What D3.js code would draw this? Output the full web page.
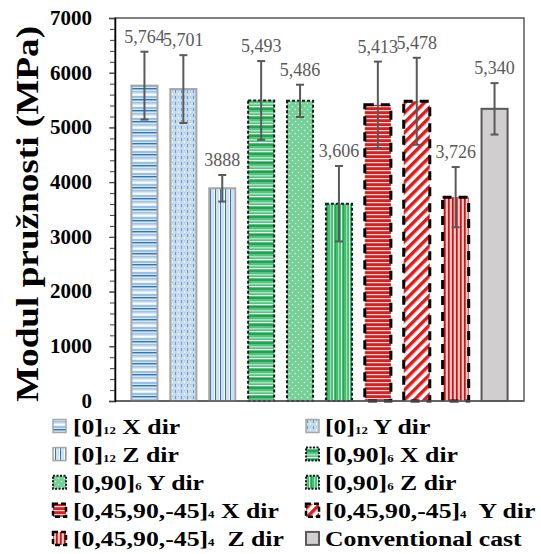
<!DOCTYPE html>
<html><head><meta charset="utf-8">
<script src="https://cdn.jsdelivr.net/npm/d3@7"></script>
<style>body{margin:0;background:#fff}</style>
</head><body>
<svg id="chart" width="541" height="554"></svg>
<script>
const categories = ["[0]12 X dir","[0]12 Y dir","[0]12 Z dir","[0,90]6 X dir","[0,90]6 Y dir","[0,90]6 Z dir","[0,45,90,-45]4 X dir","[0,45,90,-45]4 Y dir","[0,45,90,-45]4 Z dir","Conventional cast"];
const values = [5764,5701,3888,5493,5486,3606,5413,5478,3726,5340];
const errors = [620,620,243,720,295,690,790,795,550,470];
const valueLabels = ["5,764","5,701","3888","5,493","5,486","3,606","5,413","5,478","3,726","5,340"];
const yTicks = [0,1000,2000,3000,4000,5000,6000,7000];
const legendMain = ["[0]","[0]","[0]","[0,90]","[0,90]","[0,90]","[0,45,90,-45]","[0,45,90,-45]","[0,45,90,-45]","Conventional cast"];
const legendSub = ["12","12","12","6","6","6","4","4","4",""];
const legendDir = [" X dir"," Y dir"," Z dir"," X dir"," Y dir"," Z dir"," X dir","  Y dir","  Z dir",""];
const yTitle = "Modul pružnosti (MPa)";

const svg = d3.select("#chart");
const serif = "'Liberation Serif','Times New Roman',serif";
const defs = svg.append("defs");

function pat(id, w, h, bg, draw, transform) {
  const p = defs.append("pattern").attr("id", id).attr("patternUnits", "userSpaceOnUse")
    .attr("width", w).attr("height", h);
  if (transform) p.attr("patternTransform", transform);
  p.append("rect").attr("width", w).attr("height", h).attr("fill", bg);
  draw(p);
}
// blue horizontal
pat("p0", 8, 11, "#d6e6f5", p => {
  p.append("rect").attr("y", 0).attr("width", 8).attr("height", 1.4).attr("fill", "#2e75b6");
  p.append("rect").attr("y", 3).attr("width", 8).attr("height", 1.5).attr("fill", "#9dc3e6");
  p.append("rect").attr("y", 6).attr("width", 8).attr("height", 1.5).attr("fill", "#ffffff");
  p.append("rect").attr("y", 8.5).attr("width", 8).attr("height", 1).attr("fill", "#5b9bd5");
});
// blue light dotted vertical
pat("p1", 6, 6, "#c6dbf0", p => {
  p.append("rect").attr("x", 1).attr("y", 0).attr("width", 1).attr("height", 3).attr("fill", "#5b9bd5");
  p.append("rect").attr("x", 4).attr("y", 3).attr("width", 1).attr("height", 2).attr("fill", "#ffffff");
  p.append("rect").attr("x", 4).attr("y", 0).attr("width", 1).attr("height", 1).attr("fill", "#9dc3e6");
});
// blue vertical
pat("p2", 5, 8, "#ffffff", p => {
  p.append("rect").attr("x", 0).attr("width", 1.2).attr("height", 8).attr("fill", "#2e75b6");
  p.append("rect").attr("x", 2.5).attr("width", 1).attr("height", 8).attr("fill", "#9dc3e6");
});
// green horizontal
pat("p3", 8, 9, "#54c47f", p => {
  p.append("rect").attr("y", 0).attr("width", 8).attr("height", 2).attr("fill", "#22a352");
  p.append("rect").attr("y", 4).attr("width", 8).attr("height", 1.5).attr("fill", "#a5e3bb");
  p.append("rect").attr("y", 7).attr("width", 8).attr("height", 1).attr("fill", "#ffffff");
});
// green dotted
pat("p4", 6, 6, "#74d196", p => {
  p.append("circle").attr("cx", 1.5).attr("cy", 1.5).attr("r", 0.8).attr("fill", "#e8f8ee");
  p.append("circle").attr("cx", 4.5).attr("cy", 4.5).attr("r", 0.8).attr("fill", "#e8f8ee");
});
// green vertical
pat("p5", 8, 8, "#45bd72", p => {
  p.append("rect").attr("x", 2).attr("width", 1.2).attr("height", 8).attr("fill", "#9be0b4");
  p.append("rect").attr("x", 5).attr("width", 0.8).attr("height", 8).attr("fill", "#ffffff");
  p.append("rect").attr("x", 7).attr("width", 1).attr("height", 8).attr("fill", "#2aa558");
});
// red horizontal
pat("p6", 8, 4, "#d81e1e", p => {
  p.append("rect").attr("y", 2).attr("width", 8).attr("height", 1.2).attr("fill", "#ffe0e0");
});
// red diagonal
pat("p7", 7, 7, "#ffffff", p => {
  p.append("rect").attr("x", 0).attr("width", 3.5).attr("height", 7).attr("fill", "#e01b1b");
}, "rotate(45)");
// red vertical
pat("p8", 4, 8, "#f2a0a0", p => {
  p.append("rect").attr("x", 0).attr("width", 1.6).attr("height", 8).attr("fill", "#d01010");
  p.append("rect").attr("x", 2.5).attr("width", 0.7).attr("height", 8).attr("fill", "#ffffff");
});

function barStyle(sel, i, small) {
  const g = Math.floor(i / 3);
  if (i === 9) {
    sel.attr("fill", "#d0cece").attr("stroke", "#595959").attr("stroke-width", 2);
  } else {
    sel.attr("fill", `url(#p${i})`);
    if (g === 0) sel.attr("stroke", "#a6a6a6").attr("stroke-width", small ? 1.5 : 2);
    else if (g === 1) sel.attr("stroke", "#1a1a1a").attr("stroke-width", 2).attr("stroke-dasharray", small ? "2,1.5" : "3,2");
    else sel.attr("stroke", "#000").attr("stroke-width", small ? 2.5 : 3).attr("stroke-dasharray", small ? "5,3" : "9,7");
  }
  return sel;
}

const mLeft = 115, mRight = 524, mTop = 18, mBottom = 401;
const x = d3.scaleBand().domain(categories).range([mLeft, mRight]).paddingInner(0.33).paddingOuter(0.422);
const y = d3.scaleLinear().domain([0, 7000]).range([mBottom, mTop]);

// frame
svg.append("rect").attr("x", mLeft).attr("y", mTop).attr("width", mRight - mLeft).attr("height", mBottom - mTop)
  .attr("fill", "none").attr("stroke", "#595959").attr("stroke-width", 1.5);

// bars
categories.forEach((c, i) => {
  barStyle(svg.append("rect")
    .attr("x", x(c)).attr("y", y(values[i]))
    .attr("width", x.bandwidth()).attr("height", y(0) - y(values[i])), i, false);
});

// baseline
svg.append("line").attr("x1", mLeft).attr("x2", mRight).attr("y1", y(0)).attr("y2", y(0))
  .attr("stroke", "#595959").attr("stroke-width", 1.5);

// error bars
const eg = svg.append("g").attr("stroke", "#595959").attr("stroke-width", 2);
categories.forEach((c, i) => {
  const cx = x(c) + x.bandwidth() / 2;
  const hi = y(values[i] + errors[i]), lo = y(values[i] - errors[i]);
  eg.append("line").attr("x1", cx).attr("x2", cx).attr("y1", hi).attr("y2", lo);
  eg.append("line").attr("x1", cx - 4).attr("x2", cx + 4).attr("y1", hi).attr("y2", hi);
  eg.append("line").attr("x1", cx - 4).attr("x2", cx + 4).attr("y1", lo).attr("y2", lo);
});

// value labels
categories.forEach((c, i) => {
  svg.append("text").attr("x", x(c) + x.bandwidth() / 2).attr("y", y(values[i] + errors[i]) - 9)
    .attr("text-anchor", "middle").attr("font-family", serif).attr("font-size", 18)
    .attr("fill", "#595959").text(valueLabels[i]);
});

// y axis minor ticks
svg.append("g").attr("transform", `translate(${mLeft},0)`)
  .call(d3.axisLeft(y).tickValues(d3.range(0, 7001, 200)).tickSize(5).tickFormat(""))
  .call(g => g.select(".domain").remove())
  .call(g => g.selectAll("line").attr("stroke", "#404040"));
// y axis major
const ya = svg.append("g").attr("transform", `translate(${mLeft},0)`)
  .call(d3.axisLeft(y).tickValues(yTicks).tickSize(6).tickPadding(17).tickFormat(d3.format("d")));
ya.select(".domain").attr("stroke", "#000").attr("stroke-width", 1.5);
ya.selectAll("line").attr("stroke", "#404040");
ya.selectAll("text").attr("font-family", serif).attr("font-size", 21).attr("font-weight", "bold")
  .attr("fill", "#000").attr("dy", "0.3em");

// y title
svg.append("text").attr("transform", "translate(38,214) rotate(-90) scale(1.2,1)")
  .attr("text-anchor", "middle").attr("font-family", serif).attr("font-size", 31)
  .attr("font-weight", "bold").attr("fill", "#000").text(yTitle);

// legend
const lg = svg.append("g");
categories.forEach((c, i) => {
  const col = i % 2, row = Math.floor(i / 2);
  const sx = col === 0 ? 52 : 305, tx = col === 0 ? 73 : 325;
  const cy = 426 + row * 28.1;
  barStyle(lg.append("rect").attr("x", sx + 1).attr("y", cy - 6.5).attr("width", 13).attr("height", 13), i, true);
  const t = lg.append("text").attr("transform", `translate(${tx},${cy + 7.5}) scale(1.17,1)`)
    .attr("font-family", serif).attr("font-size", 22).attr("font-weight", "bold").attr("fill", "#000");
  t.append("tspan").text(legendMain[i]);
  if (legendSub[i]) t.append("tspan").attr("font-size", 11).text(legendSub[i]);
  if (legendDir[i]) t.append("tspan").attr("xml:space", "preserve").style("white-space", "pre").text(legendDir[i]);
});
</script>
</body></html>
